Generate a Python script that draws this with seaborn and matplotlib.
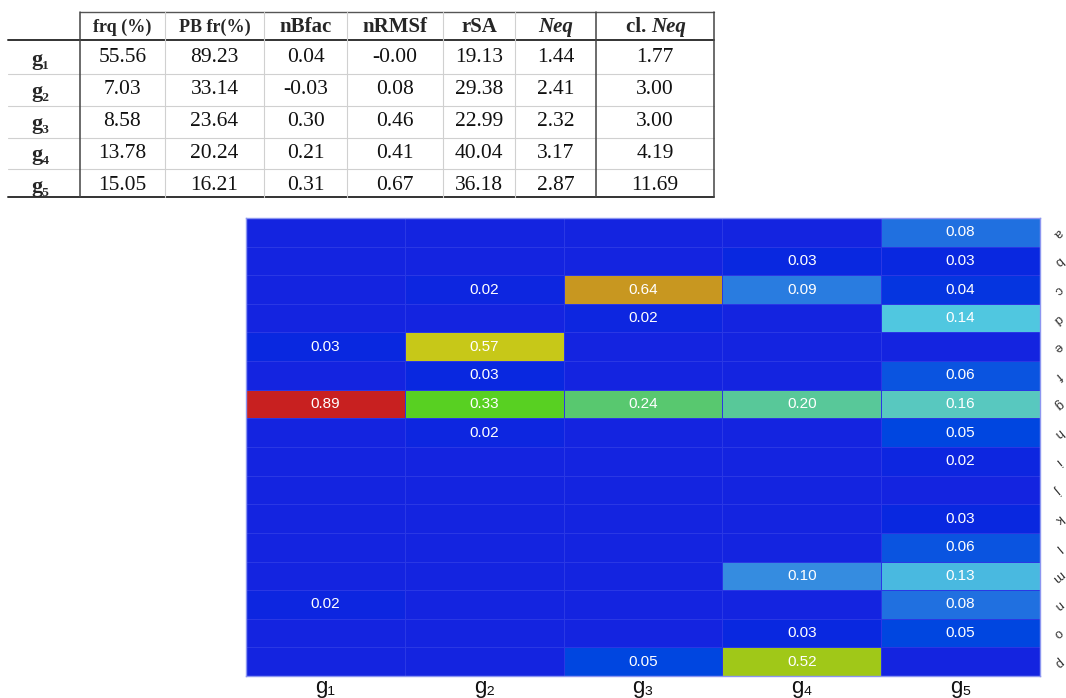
import numpy as np
import pandas as pd
import matplotlib
matplotlib.use("Agg")
import matplotlib.pyplot as plt
from matplotlib.colors import LinearSegmentedColormap
import seaborn as sns

# table data
col_names = ["frq (%)", "PB fr(%)", "nBfac", "nRMSf", "rSA", "Neq", "cl. Neq"]
grp_names = ["g\u2081", "g\u2082", "g\u2083", "g\u2084", "g\u2085"]
frq = ["55.56", "7.03", "8.58", "13.78", "15.05"]
pb_fr = ["89.23", "33.14", "23.64", "20.24", "16.21"]
nbfac = ["0.04", "-0.03", "0.30", "0.21", "0.31"]
nrmsf = ["-0.00", "0.08", "0.46", "0.41", "0.67"]
rsa = ["19.13", "29.38", "22.99", "40.04", "36.18"]
neq = ["1.44", "2.41", "2.32", "3.17", "2.87"]
cl_neq = ["1.77", "3.00", "3.00", "4.19", "11.69"]

# heatmap data (rows a..p, cols g1..g5)
rows = list("abcdefghijklmnop")
g1 = [0, 0, 0, 0, 0.03, 0, 0.89, 0, 0, 0, 0, 0, 0, 0.02, 0, 0]
g2 = [0, 0, 0.02, 0, 0.57, 0.03, 0.33, 0.02, 0, 0, 0, 0, 0, 0, 0, 0]
g3 = [0, 0, 0.64, 0.02, 0, 0, 0.24, 0, 0, 0, 0, 0, 0, 0, 0, 0.05]
g4 = [0, 0.03, 0.09, 0, 0, 0, 0.20, 0, 0, 0, 0, 0, 0.10, 0, 0.03, 0.52]
g5 = [0.08, 0.03, 0.04, 0.14, 0, 0.06, 0.16, 0.05, 0.02, 0, 0.03, 0.06, 0.13, 0.08, 0.05, 0]

df = pd.DataFrame({"g1": g1, "g2": g2, "g3": g3, "g4": g4, "g5": g5}, index=rows)
labels = df.map(lambda v: "" if v == 0 else "%.2f" % v)

anchors = [(0.00, "#1424E0"), (0.03, "#0828E0"), (0.05, "#0048E0"), (0.08, "#2070E0"),
           (0.10, "#3890E0"), (0.14, "#50C8E0"), (0.16, "#58C8C0"), (0.20, "#58C898"),
           (0.24, "#58C870"), (0.33, "#58D020"), (0.52, "#A0C818"), (0.57, "#C8C818"),
           (0.64, "#C89820"), (0.89, "#C82020")]
cmap = LinearSegmentedColormap.from_list("grp", [(v / 0.89, c) for v, c in anchors])

sns.set_style("white")
fig = plt.figure(figsize=(10.66, 6.98), dpi=100)

# ---- heatmap
ax = fig.add_axes([246 / 1066, 1 - 676 / 698, (1040 - 246) / 1066, (676 - 218) / 698])
sns.heatmap(df, ax=ax, cmap=cmap, vmin=0, vmax=0.89, cbar=False,
            annot=labels.values, fmt="", linewidths=0.4, linecolor="#2a38e4",
            annot_kws={"color": "white", "fontsize": 11, "family": "Liberation Sans"})
for s in ax.spines.values():
    s.set_visible(True)
    s.set_color("#8c96f0")
    s.set_linewidth(1)
ax.yaxis.tick_right()
ax.set_yticklabels(rows, rotation=-140, fontsize=9.5, color="#333333",
                   family="Liberation Sans", va="center", ha="center")
ax.set_xticklabels(grp_names, fontsize=16, family=["Liberation Sans", "DejaVu Sans"], color="#111111")
ax.tick_params(length=0, axis="y", pad=13)
ax.tick_params(length=0, axis="x", pad=1)
ax.set_xlabel("")
ax.set_ylabel("")

# ---- table
tax = fig.add_axes([0, 0, 1, 1])
tax.set_xlim(0, 1066)
tax.set_ylim(698, 0)
tax.axis("off")

bounds = [80, 165, 264, 347, 443, 515, 596, 714]
row_y = [58, 90, 122, 153, 185]
serif = ["Liberation Serif", "DejaVu Serif"]
hdr_size = [13, 13, 15, 15, 15, 15, 15]
for j, name in enumerate(col_names):
    xc = (bounds[j] + bounds[j + 1]) / 2
    if name == "Neq":
        tax.text(xc, 27, "Neq", ha="center", va="center", fontsize=hdr_size[j],
                 fontweight="bold", style="italic", family=serif)
    elif name == "cl. Neq":
        tax.text(xc - 4, 27, "cl. ", ha="right", va="center", fontsize=hdr_size[j],
                 fontweight="bold", family=serif)
        tax.text(xc - 4, 27, "Neq", ha="left", va="center", fontsize=hdr_size[j],
                 fontweight="bold", style="italic", family=serif)
    else:
        tax.text(xc, 27, name, ha="center", va="center", fontsize=hdr_size[j],
                 fontweight="bold", family=serif)

cols = [frq, pb_fr, nbfac, nrmsf, rsa, neq, cl_neq]
for i, y in enumerate(row_y):
    tax.text(40, y + 2, grp_names[i], ha="center", va="center", fontsize=16,
             fontweight="bold", family=serif)
    for j, col in enumerate(cols):
        xc = (bounds[j] + bounds[j + 1]) / 2
        tax.text(xc, y, col[i], ha="center", va="center", fontsize=15.5,
                 family=serif, color="#111111")

# table rules
tax.plot([80, 714], [12, 12], color="#555555", lw=1)
tax.plot([8, 714], [40, 40], color="#333333", lw=1.4)
for y in [74, 106, 138, 169]:
    tax.plot([8, 714], [y, y], color="#d0d0d0", lw=0.8)
tax.plot([8, 714], [197, 197], color="#333333", lw=1.4)
for x in [165, 264, 347, 443, 515]:
    tax.plot([x, x], [12, 197], color="#d0d0d0", lw=0.8)
for x in [80, 596, 714]:
    tax.plot([x, x], [12, 197], color="#444444", lw=1.1)

fig.savefig("out.png", dpi=100)
